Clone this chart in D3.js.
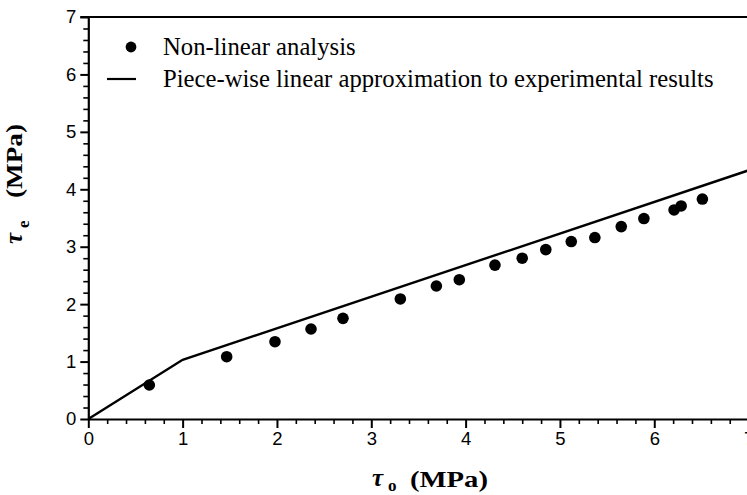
<!DOCTYPE html>
<html>
<head>
<meta charset="utf-8">
<script src="https://cdn.jsdelivr.net/npm/d3@7"></script>
<style>
  html, body { margin: 0; padding: 0; background: #fff; }
  svg { display: block; }
</style>
</head>
<body>
<svg id="chart" width="747" height="495"></svg>
<script>
// ---- data ----
const analysisX = [0.647, 1.467, 1.979, 2.361, 2.70, 3.308, 3.69, 3.933, 4.311, 4.60, 4.85, 5.12, 5.37, 5.65, 5.89, 6.21, 6.285, 6.51];
const analysisY = [0.592, 1.085, 1.346, 1.567, 1.753, 2.09, 2.316, 2.426, 2.68, 2.80, 2.95, 3.09, 3.16, 3.35, 3.49, 3.64, 3.71, 3.83];
const approxX = [0, 1, 7];
const approxY = [0, 1.03, 4.33];
const xTicks = [0, 1, 2, 3, 4, 5, 6, 7];
const yTicks = [0, 1, 2, 3, 4, 5, 6, 7];
const legendLabels = ["Non-linear analysis", "Piece-wise linear approximation to experimental results"];

// ---- layout ----
const svg = d3.select("#chart");
const x = d3.scaleLinear().domain([0, 7]).range([88.3, 748.6]);
const y = d3.scaleLinear().domain([0, 7]).range([419, 17]);

const minorX = d3.range(0, 7.001, 0.2).filter(v => Math.abs(v - Math.round(v)) > 1e-6);
const minorY = d3.range(0, 7.001, 0.2).filter(v => Math.abs(v - Math.round(v)) > 1e-6);

// minor ticks
svg.append("g").attr("transform", `translate(0,${y(0)})`)
  .call(d3.axisBottom(x).tickValues(minorX).tickSize(5).tickFormat("").tickSizeOuter(0))
  .call(g => g.select(".domain").remove())
  .call(g => g.selectAll("line").attr("stroke", "#000").attr("stroke-width", 1.6));
svg.append("g").attr("transform", `translate(${x(0)},0)`)
  .call(d3.axisLeft(y).tickValues(minorY).tickSize(5).tickFormat("").tickSizeOuter(0))
  .call(g => g.select(".domain").remove())
  .call(g => g.selectAll("line").attr("stroke", "#000").attr("stroke-width", 1.6));

// major axes
const xAxis = svg.append("g").attr("transform", `translate(0,${y(0)})`)
  .call(d3.axisBottom(x).tickValues(xTicks).tickSize(9).tickPadding(4).tickSizeOuter(0).tickFormat(d3.format("d")));
const yAxis = svg.append("g").attr("transform", `translate(${x(0)},0)`)
  .call(d3.axisLeft(y).tickValues(yTicks).tickSize(8).tickPadding(4).tickSizeOuter(0).tickFormat(d3.format("d")));
[xAxis, yAxis].forEach(g => {
  g.select(".domain").attr("stroke", "#000").attr("stroke-width", 2.2);
  g.selectAll(".tick line").attr("stroke", "#000").attr("stroke-width", 2);
  g.selectAll(".tick text").attr("fill", "#000")
    .style("font-family", "'Liberation Sans', Arial, sans-serif").style("font-size", "18.5px");
});

// top border
svg.append("line")
  .attr("x1", x(0) - 8).attr("x2", x(7)).attr("y1", y(7)).attr("y2", y(7))
  .attr("stroke", "#000").attr("stroke-width", 2.2);
svg.append("line")
  .attr("x1", x(7)).attr("x2", x(7)).attr("y1", y(7)).attr("y2", y(0))
  .attr("stroke", "#000").attr("stroke-width", 2.2);

// approximation line
const approx = approxX.map((v, i) => [v, approxY[i]]);
svg.append("path")
  .datum(approx)
  .attr("fill", "none").attr("stroke", "#000").attr("stroke-width", 2.4)
  .attr("d", d3.line().x(d => x(d[0])).y(d => y(d[1])));

// analysis points
const pts = analysisX.map((v, i) => [v, analysisY[i]]);
svg.append("g").selectAll("circle").data(pts).join("circle")
  .attr("cx", d => x(d[0])).attr("cy", d => y(d[1])).attr("r", 5.8).attr("fill", "#000");

// legend
const serif = "'Liberation Serif', 'Times New Roman', serif";
svg.append("circle").attr("cx", 131).attr("cy", 47).attr("r", 5.4).attr("fill", "#000");
svg.append("line").attr("x1", 107).attr("x2", 136).attr("y1", 79).attr("y2", 79)
  .attr("stroke", "#000").attr("stroke-width", 2.2);
svg.append("text").attr("x", 163).attr("y", 55).text(legendLabels[0])
  .style("font-family", serif).style("font-size", "24.7px").attr("fill", "#000");
svg.append("text").attr("x", 163).attr("y", 87).text(legendLabels[1])
  .style("font-family", serif).style("font-size", "24.7px").attr("fill", "#000");

// axis titles
const xt = svg.append("text").attr("x", 372).attr("y", 486)
  .style("font-family", serif).style("font-weight", "bold").attr("fill", "#000");
xt.append("tspan").text("τ").style("font-size", "25px").style("font-style", "italic");
xt.append("tspan").text("o").attr("dx", 5).attr("dy", 5).style("font-size", "17px");
xt.append("tspan").text("(MPa)").attr("x", 410).attr("dy", -4)
  .attr("textLength", 78).attr("lengthAdjust", "spacingAndGlyphs").style("font-size", "24px");

const yt = svg.append("text").attr("transform", "translate(22,244) rotate(-90)")
  .style("font-family", serif).style("font-weight", "bold").attr("fill", "#000");
yt.append("tspan").text("τ").style("font-size", "25px").style("font-style", "italic");
yt.append("tspan").text("e").attr("dx", 5).attr("dy", 7).style("font-size", "17px");
yt.append("tspan").text("(MPa)").attr("x", 46).attr("dy", -7)
  .attr("textLength", 74).attr("lengthAdjust", "spacingAndGlyphs").style("font-size", "24px");
</script>
</body>
</html>
